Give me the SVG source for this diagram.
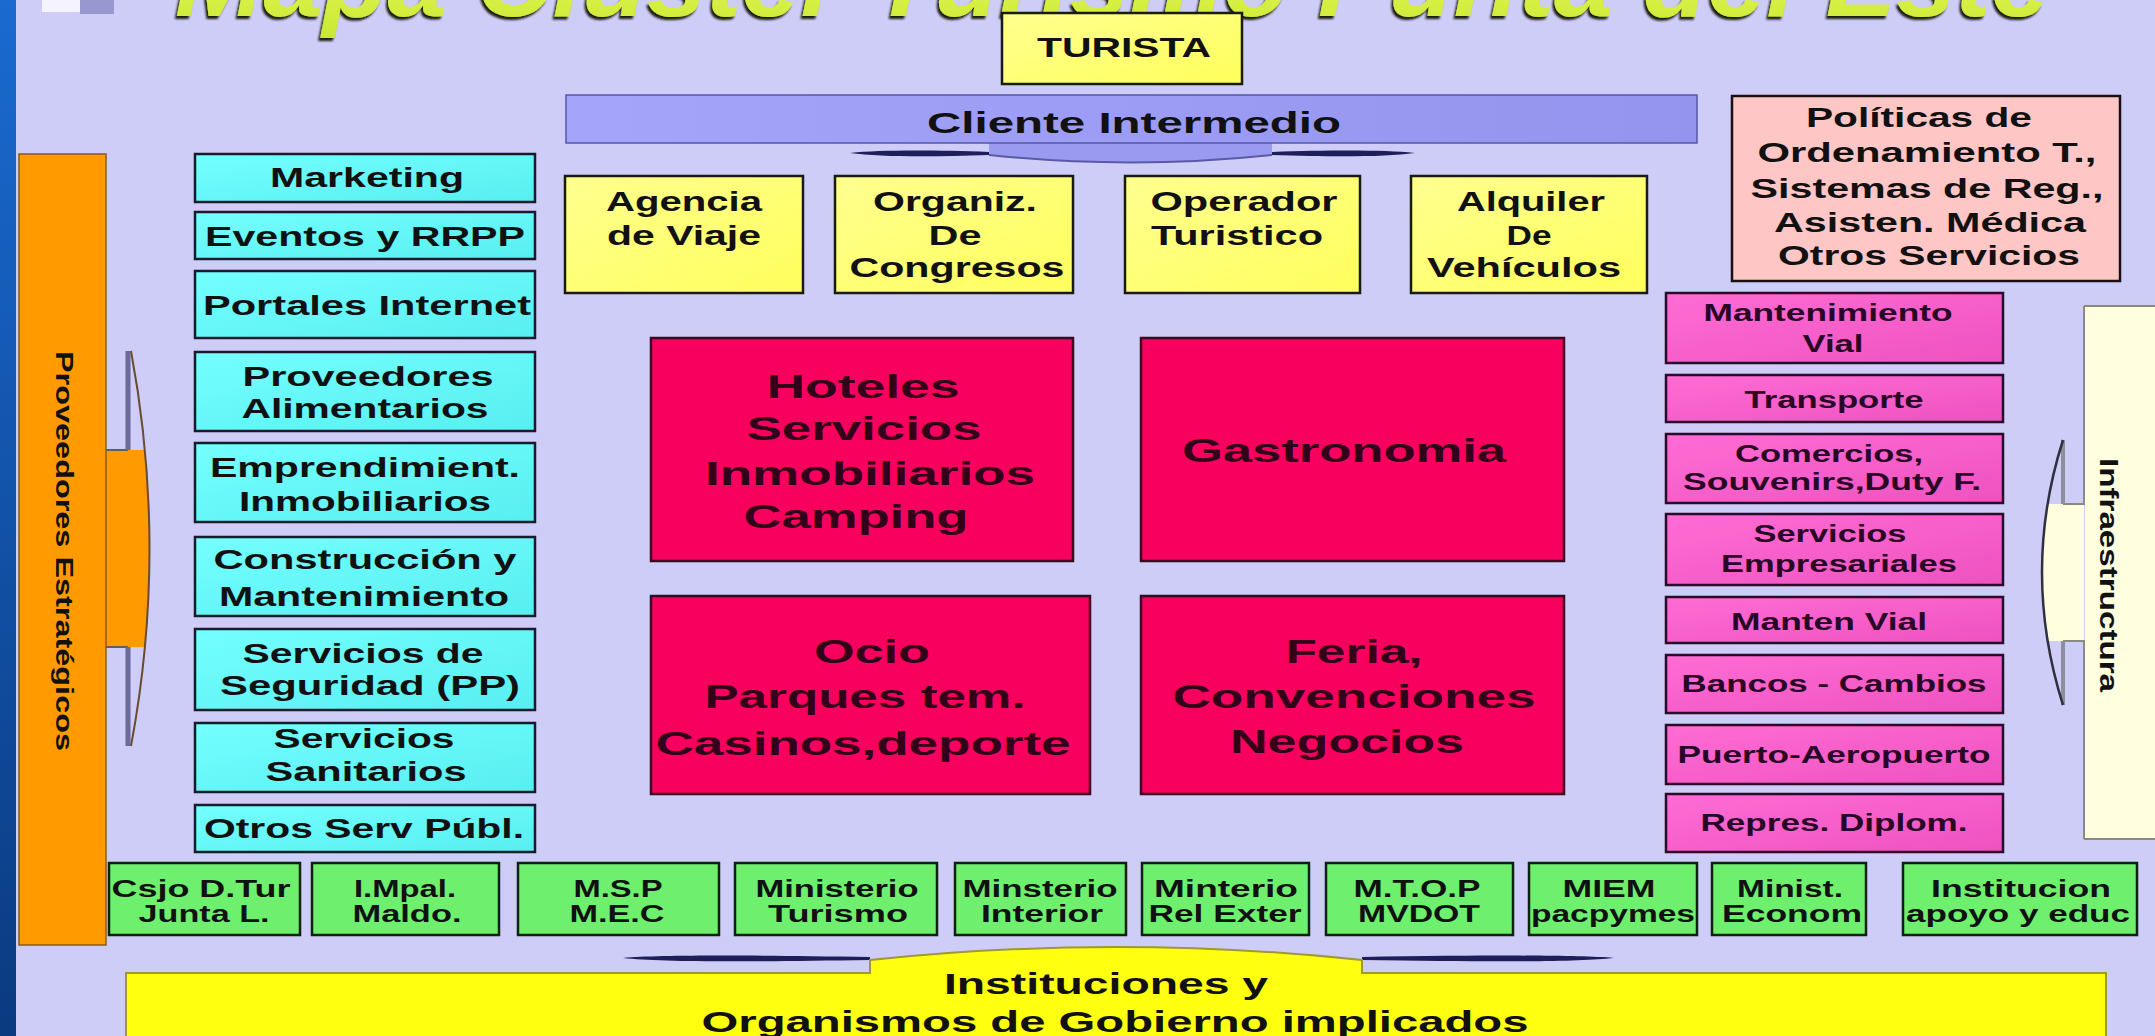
<svg xmlns="http://www.w3.org/2000/svg" width="2155" height="1036" viewBox="0 0 2155 1036">
<defs>
<linearGradient id="gBlue" x1="0" y1="0" x2="0" y2="1"><stop offset="0" stop-color="#1a6ad0"/><stop offset="1" stop-color="#0a3a80"/></linearGradient>
<linearGradient id="gTitle" x1="0" y1="0" x2="0" y2="1"><stop offset="0" stop-color="#f4ff70"/><stop offset="1" stop-color="#c8e830"/></linearGradient>
<linearGradient id="gCyan" x1="0" y1="0" x2="1" y2="1"><stop offset="0" stop-color="#74ffff"/><stop offset="1" stop-color="#58eef0"/></linearGradient>
<linearGradient id="gYel" x1="0" y1="0" x2="1" y2="1"><stop offset="0" stop-color="#ffff90"/><stop offset="1" stop-color="#ffff5c"/></linearGradient>
<linearGradient id="gMag" x1="0" y1="0" x2="1" y2="1"><stop offset="0" stop-color="#ff6cd4"/><stop offset="1" stop-color="#ee52c0"/></linearGradient>
<linearGradient id="gBand" x1="0" y1="0" x2="1" y2="0"><stop offset="0" stop-color="#a4a4fa"/><stop offset="1" stop-color="#9494ee"/></linearGradient>
<filter id="shadow" x="-5%" y="-50%" width="110%" height="200%">
<feDropShadow dx="-2" dy="3" stdDeviation="1" flood-color="#1a1a08" flood-opacity="1"/>
</filter>
<style>
.t{font-family:"Liberation Sans",Arial,Helvetica,sans-serif;font-weight:bold;text-anchor:middle;fill:#111}
.cy{fill:url(#gCyan);stroke:#1a1a2a;stroke-width:2.5}
.ye{fill:url(#gYel);stroke:#1a1a10;stroke-width:2.5}
.mg{fill:url(#gMag);stroke:#2a0a28;stroke-width:2.5}
.cr{fill:#f8005e;stroke:#3a0820;stroke-width:2.5}
.gr{fill:#6ef06e;stroke:#0e200e;stroke-width:2.5}
.s27{font-size:27px}
.s28{font-size:28px}
.s23{font-size:23px}
.s34{font-size:34px;fill:#33001a}
.m{fill:#2a0626}
</style>
</defs>
<rect x="0" y="0" width="2155" height="1036" fill="#cdcdf8"/>
<rect x="0" y="0" width="16" height="1036" fill="url(#gBlue)"/>
<rect x="42" y="0" width="38" height="12" fill="#f4f4ff"/>
<rect x="80" y="0" width="34" height="14" fill="#9898d0"/>
<g id="title">
<text x="175" y="16" font-family="Liberation Sans, Arial, sans-serif" font-weight="bold" font-style="italic" font-size="104" textLength="1875" lengthAdjust="spacingAndGlyphs" fill="url(#gTitle)" filter="url(#shadow)">Mapa Cluster Turismo Punta del Este</text>
</g>

<g id="connectors">
<path d="M989,143 L1272,143 L1272,155 Q1131,170 989,155 Z" fill="#9a9af0"/>
<path d="M989,155 Q1131,170 1272,155" fill="none" stroke="#5a5aa8" stroke-width="2"/>
<path d="M850,153 C880,150 930,150 989,152 L989,155 C930,157 880,157 850,153 Z" fill="#1e1e5a"/>
<path d="M1415,153 C1385,150 1335,150 1272,152 L1272,155 C1335,157 1385,157 1415,153 Z" fill="#1e1e5a"/>
<path d="M623,958 C660,955 740,955 870,957 L870,960 C740,962 660,962 623,958 Z" fill="#1e1e5a"/>
<path d="M1614,958 C1577,955 1497,955 1362,957 L1362,960 C1497,962 1577,962 1614,958 Z" fill="#1e1e5a"/>
<path d="M106,450 L145,450 Q155,549 145,647 L106,647 Z" fill="#ff9a00"/>
<path d="M106,450 L128,450 M106,647 L128,647" stroke="#6a5a60" stroke-width="2"/>
<path d="M128,351 L128,450 M128,647 L128,746" stroke="#6a6a9c" stroke-width="5"/>
<path d="M131,351 Q168,549 131,746" fill="none" stroke="#6a4a30" stroke-width="2"/>
<path d="M2084,504 L2048,504 Q2036,572 2048,641 L2084,641 Z" fill="#ffffe0"/>
<path d="M2063,504 L2086,504 M2063,641 L2086,641" stroke="#8a8a80" stroke-width="2"/>
<path d="M2063,440 L2063,504 M2063,641 L2063,705" stroke="#8e8e9e" stroke-width="4"/>
<path d="M2063,440 Q2021,572 2063,705" fill="none" stroke="#303040" stroke-width="2.5"/>
</g>

<g id="proveedores-estrategicos">
<rect x="19" y="154" width="87" height="791" fill="#ff9a00" stroke="#8a5a20" stroke-width="1.5"/>
<text class="t" transform="translate(56,551) rotate(90)" font-size="24" textLength="400" lengthAdjust="spacingAndGlyphs" fill="#2a1400">Proveedores Estratégicos</text>
</g>

<g id="infraestructura">
<rect x="2085" y="307" width="75" height="531" fill="#ffffe0"/>
<path d="M2084,306 L2084,504 M2084,641 L2084,839 M2084,306 L2160,306 M2084,839 L2160,839" stroke="#8a8a80" stroke-width="2"/>
<text class="t" transform="translate(2100,575) rotate(90)" font-size="26" textLength="234" lengthAdjust="spacingAndGlyphs">Infraestructura</text>
</g>

<g id="turista">
<rect x="1002" y="13" width="240" height="71" class="ye"/>
<text class="t s28" x="1124" y="57" textLength="174" lengthAdjust="spacingAndGlyphs">TURISTA</text>
</g>

<g id="cliente-intermedio">
<rect x="566" y="95" width="1131" height="48" fill="url(#gBand)" stroke="#5656a8" stroke-width="1.5"/>
<text class="t" x="1134" y="133" font-size="30" textLength="414" lengthAdjust="spacingAndGlyphs" fill="#1a1a58">Cliente Intermedio</text>
</g>

<g id="agencia-viaje">
<rect x="565" y="176" width="238" height="117" class="ye"/>
<text class="t s28" x="684" y="211" textLength="156" lengthAdjust="spacingAndGlyphs">Agencia</text>
<text class="t s28" x="684" y="245" textLength="154" lengthAdjust="spacingAndGlyphs">de Viaje</text>
</g>
<g id="organiz-congresos">
<rect x="835" y="176" width="238" height="117" class="ye"/>
<text class="t s28" x="955" y="211" textLength="164" lengthAdjust="spacingAndGlyphs">Organiz.</text>
<text class="t s28" x="955" y="245" textLength="53" lengthAdjust="spacingAndGlyphs">De</text>
<text class="t s28" x="957" y="277" textLength="215" lengthAdjust="spacingAndGlyphs">Congresos</text>
</g>
<g id="operador-turistico">
<rect x="1125" y="176" width="235" height="117" class="ye"/>
<text class="t s28" x="1244" y="211" textLength="187" lengthAdjust="spacingAndGlyphs">Operador</text>
<text class="t s28" x="1237" y="245" textLength="172" lengthAdjust="spacingAndGlyphs">Turistico</text>
</g>
<g id="alquiler-vehiculos">
<rect x="1411" y="176" width="236" height="117" class="ye"/>
<text class="t s28" x="1531" y="211" textLength="148" lengthAdjust="spacingAndGlyphs">Alquiler</text>
<text class="t s28" x="1529" y="245" textLength="45" lengthAdjust="spacingAndGlyphs">De</text>
<text class="t s28" x="1524" y="277" textLength="194" lengthAdjust="spacingAndGlyphs">Vehículos</text>
</g>

<g id="politicas">
<rect x="1732" y="96" width="388" height="185" fill="#ffc6c6" stroke="#1a1010" stroke-width="2.5"/>
<text class="t s27" x="1919" y="127" textLength="226" lengthAdjust="spacingAndGlyphs">Políticas de</text>
<text class="t s27" x="1927" y="162" textLength="339" lengthAdjust="spacingAndGlyphs">Ordenamiento T.,</text>
<text class="t s27" x="1927" y="198" textLength="353" lengthAdjust="spacingAndGlyphs">Sistemas de Reg.,</text>
<text class="t s27" x="1930" y="232" textLength="312" lengthAdjust="spacingAndGlyphs">Asisten. Médica</text>
<text class="t s27" x="1929" y="265" textLength="302" lengthAdjust="spacingAndGlyphs">Otros Servicios</text>
</g>

<g id="marketing"><rect x="195" y="154" width="340" height="48" class="cy"/>
<text class="t s27" x="367" y="187" textLength="194" lengthAdjust="spacingAndGlyphs">Marketing</text></g>
<g id="eventos"><rect x="195" y="212" width="340" height="47" class="cy"/>
<text class="t s27" x="365" y="246" textLength="320" lengthAdjust="spacingAndGlyphs">Eventos y RRPP</text></g>
<g id="portales"><rect x="195" y="271" width="340" height="67" class="cy"/>
<text class="t s27" x="367" y="315" textLength="328" lengthAdjust="spacingAndGlyphs">Portales Internet</text></g>
<g id="proveedores-alimentarios"><rect x="195" y="352" width="340" height="79" class="cy"/>
<text class="t s27" x="368" y="386" textLength="251" lengthAdjust="spacingAndGlyphs">Proveedores</text>
<text class="t s27" x="365" y="418" textLength="247" lengthAdjust="spacingAndGlyphs">Alimentarios</text></g>
<g id="emprendimientos"><rect x="195" y="443" width="340" height="79" class="cy"/>
<text class="t s27" x="365" y="477" textLength="310" lengthAdjust="spacingAndGlyphs">Emprendimient.</text>
<text class="t s27" x="365" y="511" textLength="252" lengthAdjust="spacingAndGlyphs">Inmobiliarios</text></g>
<g id="construccion"><rect x="195" y="537" width="340" height="79" class="cy"/>
<text class="t s27" x="365" y="569" textLength="303" lengthAdjust="spacingAndGlyphs">Construcción y</text>
<text class="t s27" x="364" y="606" textLength="290" lengthAdjust="spacingAndGlyphs">Mantenimiento</text></g>
<g id="seguridad"><rect x="195" y="629" width="340" height="81" class="cy"/>
<text class="t s27" x="363" y="663" textLength="241" lengthAdjust="spacingAndGlyphs">Servicios de</text>
<text class="t s27" x="370" y="695" textLength="300" lengthAdjust="spacingAndGlyphs">Seguridad (PP)</text></g>
<g id="sanitarios"><rect x="195" y="723" width="340" height="69" class="cy"/>
<text class="t s27" x="364" y="748" textLength="181" lengthAdjust="spacingAndGlyphs">Servicios</text>
<text class="t s27" x="366" y="781" textLength="201" lengthAdjust="spacingAndGlyphs">Sanitarios</text></g>
<g id="otros-serv"><rect x="195" y="805" width="340" height="47" class="cy"/>
<text class="t s27" x="364" y="838" textLength="320" lengthAdjust="spacingAndGlyphs">Otros Serv Públ.</text></g>

<g id="hoteles"><rect x="651" y="338" width="422" height="223" class="cr"/>
<text class="t s34" x="863" y="398" textLength="193" lengthAdjust="spacingAndGlyphs">Hoteles</text>
<text class="t s34" x="864" y="440" textLength="235" lengthAdjust="spacingAndGlyphs">Servicios</text>
<text class="t s34" x="870" y="485" textLength="330" lengthAdjust="spacingAndGlyphs">Inmobiliarios</text>
<text class="t s34" x="856" y="528" textLength="225" lengthAdjust="spacingAndGlyphs">Camping</text></g>
<g id="gastronomia"><rect x="1141" y="338" width="423" height="223" class="cr"/>
<text class="t s34" x="1344" y="462" textLength="324" lengthAdjust="spacingAndGlyphs">Gastronomia</text></g>
<g id="ocio"><rect x="651" y="596" width="439" height="198" class="cr"/>
<text class="t s34" x="872" y="663" textLength="116" lengthAdjust="spacingAndGlyphs">Ocio</text>
<text class="t s34" x="865" y="708" textLength="321" lengthAdjust="spacingAndGlyphs">Parques tem.</text>
<text class="t s34" x="863" y="755" textLength="415" lengthAdjust="spacingAndGlyphs">Casinos,deporte</text></g>
<g id="feria"><rect x="1141" y="596" width="423" height="198" class="cr"/>
<text class="t s34" x="1354" y="663" textLength="137" lengthAdjust="spacingAndGlyphs">Feria,</text>
<text class="t s34" x="1354" y="708" textLength="363" lengthAdjust="spacingAndGlyphs">Convenciones</text>
<text class="t s34" x="1347" y="753" textLength="234" lengthAdjust="spacingAndGlyphs">Negocios</text></g>

<g id="mantenimiento-vial"><rect x="1666" y="293" width="337" height="70" class="mg"/>
<text class="t s23 m" x="1828" y="321" textLength="249" lengthAdjust="spacingAndGlyphs">Mantenimiento</text>
<text class="t s23 m" x="1833" y="352" textLength="61" lengthAdjust="spacingAndGlyphs">Vial</text></g>
<g id="transporte"><rect x="1666" y="375" width="337" height="47" class="mg"/>
<text class="t s23 m" x="1834" y="408" textLength="179" lengthAdjust="spacingAndGlyphs">Transporte</text></g>
<g id="comercios"><rect x="1666" y="434" width="337" height="69" class="mg"/>
<text class="t s23 m" x="1829" y="462" textLength="188" lengthAdjust="spacingAndGlyphs">Comercios,</text>
<text class="t s23 m" x="1832" y="490" textLength="298" lengthAdjust="spacingAndGlyphs">Souvenirs,Duty F.</text></g>
<g id="servicios-empresariales"><rect x="1666" y="514" width="337" height="71" class="mg"/>
<text class="t s23 m" x="1830" y="542" textLength="153" lengthAdjust="spacingAndGlyphs">Servicios</text>
<text class="t s23 m" x="1839" y="572" textLength="236" lengthAdjust="spacingAndGlyphs">Empresariales</text></g>
<g id="manten-vial"><rect x="1666" y="597" width="337" height="46" class="mg"/>
<text class="t s23 m" x="1829" y="630" textLength="196" lengthAdjust="spacingAndGlyphs">Manten Vial</text></g>
<g id="bancos"><rect x="1666" y="655" width="337" height="58" class="mg"/>
<text class="t s23 m" x="1834" y="692" textLength="305" lengthAdjust="spacingAndGlyphs">Bancos -  Cambios</text></g>
<g id="puerto"><rect x="1666" y="725" width="337" height="59" class="mg"/>
<text class="t s23 m" x="1834" y="763" textLength="313" lengthAdjust="spacingAndGlyphs">Puerto-Aeropuerto</text></g>
<g id="repres"><rect x="1666" y="794" width="337" height="58" class="mg"/>
<text class="t s23 m" x="1834" y="831" textLength="267" lengthAdjust="spacingAndGlyphs">Repres.  Diplom.</text></g>

<g id="csjo"><rect x="109" y="863" width="191" height="72" class="gr"/>
<text class="t s23" x="201" y="897" textLength="179" lengthAdjust="spacingAndGlyphs">Csjo D.Tur</text>
<text class="t s23" x="204" y="922" textLength="131" lengthAdjust="spacingAndGlyphs">Junta L.</text></g>
<g id="impal"><rect x="312" y="863" width="187" height="72" class="gr"/>
<text class="t s23" x="405" y="897" textLength="102" lengthAdjust="spacingAndGlyphs">I.Mpal.</text>
<text class="t s23" x="407" y="922" textLength="109" lengthAdjust="spacingAndGlyphs">Maldo.</text></g>
<g id="msp"><rect x="518" y="863" width="201" height="72" class="gr"/>
<text class="t s23" x="618" y="897" textLength="89" lengthAdjust="spacingAndGlyphs">M.S.P</text>
<text class="t s23" x="617" y="922" textLength="95" lengthAdjust="spacingAndGlyphs">M.E.C</text></g>
<g id="min-turismo"><rect x="735" y="863" width="202" height="72" class="gr"/>
<text class="t s23" x="837" y="897" textLength="163" lengthAdjust="spacingAndGlyphs">Ministerio</text>
<text class="t s23" x="838" y="922" textLength="140" lengthAdjust="spacingAndGlyphs">Turismo</text></g>
<g id="min-interior"><rect x="955" y="863" width="171" height="72" class="gr"/>
<text class="t s23" x="1040" y="897" textLength="155" lengthAdjust="spacingAndGlyphs">Minsterio</text>
<text class="t s23" x="1042" y="922" textLength="122" lengthAdjust="spacingAndGlyphs">Interior</text></g>
<g id="min-rel-exter"><rect x="1142" y="863" width="167" height="72" class="gr"/>
<text class="t s23" x="1226" y="897" textLength="144" lengthAdjust="spacingAndGlyphs">Minterio</text>
<text class="t s23" x="1225" y="922" textLength="153" lengthAdjust="spacingAndGlyphs">Rel Exter</text></g>
<g id="mtop"><rect x="1326" y="863" width="187" height="72" class="gr"/>
<text class="t s23" x="1417" y="897" textLength="127" lengthAdjust="spacingAndGlyphs">M.T.O.P</text>
<text class="t s23" x="1419" y="922" textLength="122" lengthAdjust="spacingAndGlyphs">MVDOT</text></g>
<g id="miem"><rect x="1529" y="863" width="168" height="72" class="gr"/>
<text class="t s23" x="1609" y="897" textLength="93" lengthAdjust="spacingAndGlyphs">MIEM</text>
<text class="t s23" x="1613" y="922" textLength="164" lengthAdjust="spacingAndGlyphs">pacpymes</text></g>
<g id="min-econom"><rect x="1712" y="863" width="154" height="72" class="gr"/>
<text class="t s23" x="1790" y="897" textLength="106" lengthAdjust="spacingAndGlyphs">Minist.</text>
<text class="t s23" x="1792" y="922" textLength="140" lengthAdjust="spacingAndGlyphs">Econom</text></g>
<g id="institucion"><rect x="1903" y="863" width="234" height="72" class="gr"/>
<text class="t s23" x="2021" y="897" textLength="180" lengthAdjust="spacingAndGlyphs">Institucion</text>
<text class="t s23" x="2018" y="922" textLength="224" lengthAdjust="spacingAndGlyphs">apoyo y educ</text></g>

<g id="instituciones-gobierno">
<path d="M126,973 L870,973 L870,960 Q1116,934 1362,960 L1362,973 L2106,973 L2106,1040 L126,1040 Z" fill="#ffff10" stroke="#a09830" stroke-width="2"/>
<text class="t" x="1106" y="994" font-size="30" textLength="324" lengthAdjust="spacingAndGlyphs">Instituciones y</text>
<text class="t" x="1115" y="1032" font-size="30" textLength="827" lengthAdjust="spacingAndGlyphs">Organismos de Gobierno implicados</text>
</g>
</svg>
